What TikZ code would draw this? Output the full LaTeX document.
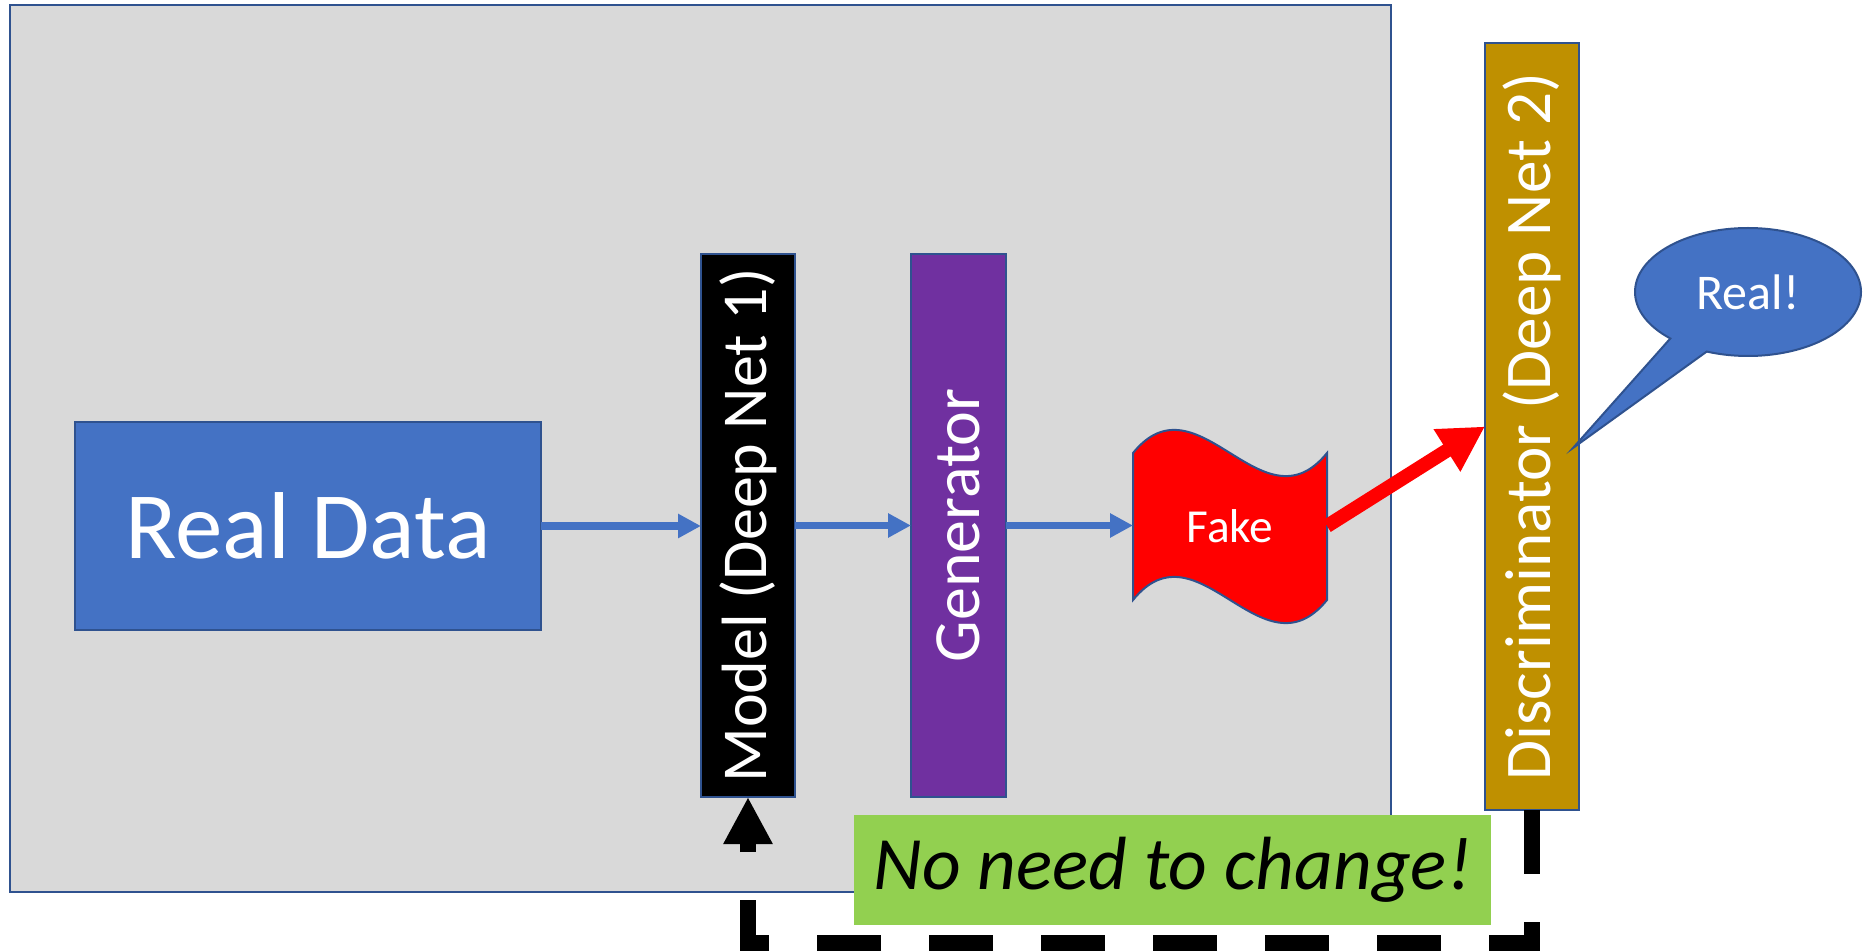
\documentclass[tikz,border=0pt]{standalone}
\usepackage{fontspec}
\usepackage{graphicx}
\setmainfont{Carlito}
\usetikzlibrary{arrows.meta,shapes.callouts}
\definecolor{pblue}{HTML}{4472C4}
\definecolor{pborder}{HTML}{2F528F}
\definecolor{pgray}{HTML}{D9D9D9}
\definecolor{ppurple}{HTML}{7030A0}
\definecolor{pgold}{HTML}{BF9000}
\definecolor{pgreen}{HTML}{92D050}
\begin{document}
\begin{tikzpicture}[x=0.5pt,y=-0.5pt,
  box/.style={draw=pborder,line width=1pt,inner sep=0pt,outer sep=0pt,text=white},
  flow/.style={draw=pblue,line width=3.8pt,-{Triangle[length=11.5pt,width=11.5pt]}},
  redflow/.style={draw=red,line width=7pt,-{Triangle[length=22.5pt,width=23.5pt]}},
  feedback/.style={draw=black,line width=8pt,dash pattern=on 32pt off 24pt,-{Triangle[length=23.5pt,width=23pt]}}
]
\useasboundingbox (0,0) rectangle (1863,951);

% background frame
\node[box,fill=pgray,minimum width=690.75pt,minimum height=443.5pt] (frame) at (700.25,448.5) {};

% blocks
\node[box,fill=pblue,minimum width=233pt,minimum height=104pt,font=\fontsize{47.5}{56}\selectfont] (real) at (308,526) {Real Data};
\node[box,fill=black,minimum width=47pt,minimum height=271.5pt,font=\fontsize{32}{36}\selectfont] (model) at (748,525.5) {\rotatebox{90}{Model (Deep Net 1)}};
\node[box,fill=ppurple,minimum width=47.5pt,minimum height=271.5pt,font=\fontsize{33}{38}\selectfont] (gen) at (958.5,525.5) {\rotatebox{90}{Generator}};
\node[box,fill=pgold,minimum width=47pt,minimum height=383.5pt,font=\fontsize{32.6}{38}\selectfont] (disc) at (1532,426.5) {\rotatebox{90}{Discriminator (Deep Net 2)}};

% fake (wave shape)
\draw[draw=pborder,line width=1pt,fill=red]
  (1133,453) .. controls (1198,373) and (1262,533) .. (1327,453)
  -- (1327,600) .. controls (1262,680) and (1198,520) .. (1133,600) -- cycle;
\node[inner sep=0pt,outer sep=0pt,minimum width=97pt,minimum height=73.5pt,text=white,font=\fontsize{23.7}{28}\selectfont] (fake) at (1230,526) {Fake};

% green note
\node[fill=pgreen,inner sep=0pt,minimum width=318.5pt,minimum height=55pt,font=\fontsize{37.7}{45}\selectfont\itshape] (note) at (1172.5,870) {No need to change!};

% callout
\node[ellipse callout,draw=pborder,line width=1pt,fill=pblue,minimum width=113pt,minimum height=64pt,
  callout absolute pointer={(1573,448)},callout pointer arc=22,inner sep=0pt,
  text=white,font=\fontsize{25}{30}\selectfont] (said) at (1748,292) {Real!};

% connectors
\draw[flow] (real.east) -- (real.east -| model.west);
\draw[flow] (model.east) -- (gen.west);
\draw[flow] (gen.east) -- (gen.east -| fake.west);
\draw[redflow] (fake.east) -- (disc.west);
\draw[feedback] (disc.south) -- ++(0,133) -| (model.south);
\end{tikzpicture}
\end{document}
